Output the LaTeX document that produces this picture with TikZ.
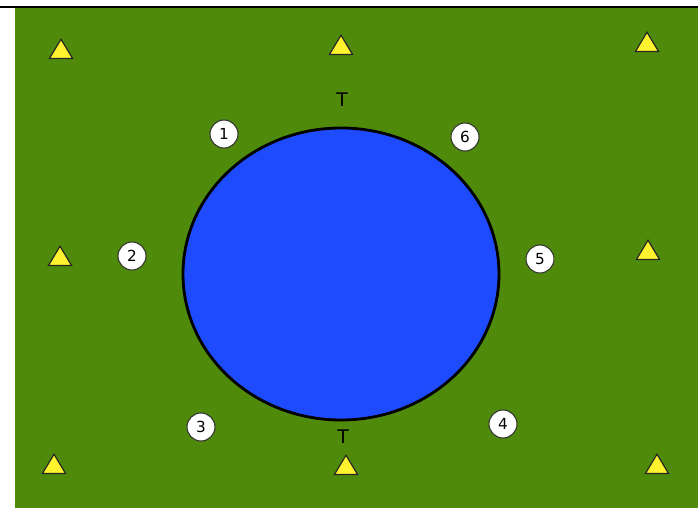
\documentclass[tikz,border=0pt]{standalone}
\usepackage{fontspec}
\setmainfont{DejaVu Sans}
\usepackage{xcolor}
\usetikzlibrary{shapes.geometric}
\definecolor{campo}{HTML}{4F8A0B}
\definecolor{lago}{HTML}{1F4BFF}
\definecolor{cono}{HTML}{FFF22E}

\begin{document}
\begin{tikzpicture}[
            x=0.03cm, y=-0.03cm,
            cone/.style={
                isosceles triangle,
                shape border rotate=90,
                isosceles triangle apex angle=62,
                draw=black!85,
                fill=cono,
                line width=1pt,
                inner sep=0pt,
                minimum height=0.58cm
            },
            spot/.style={
                circle,
                draw=black!80,
                fill=white,
                line width=0.9pt,
                minimum size=0.84cm,
                inner sep=0pt,
                font=\fontsize{13}{13}\selectfont
            },
            tag/.style={
                font=\fontsize{16}{16}\selectfont
            }
        ]
            \useasboundingbox (0,0) rectangle (698,508);
            % --- CAMPO ---
            \fill[campo] (15,8) rectangle (698,508);
            \draw[line width=1.5pt] (0,7) -- (698,7);

            % --- LAGO ---
            \node[ellipse, draw=black, line width=2.4pt, fill=lago,
                  minimum width=316*0.03cm, minimum height=292*0.03cm] (lake) at (341,274) {};

            % --- CONOS ---
            \node[cone] (c1) at (61,52) {};
            \node[cone] (c2) at (341,48) {};
            \node[cone] (c3) at (647,45) {};
            \node[cone] (c4) at (60,259) {};
            \node[cone] (c5) at (648,253) {};
            \node[cone] (c6) at (54,467) {};
            \node[cone] (c7) at (346,468) {};
            \node[cone] (c8) at (657,467) {};

            % --- POSICIONES ---
            \node[spot] (p1) at (224,134) {1};
            \node[spot] (p2) at (132,256) {2};
            \node[spot] (p3) at (201,427) {3};
            \node[spot] (p4) at (503,424) {4};
            \node[spot] (p5) at (540,259) {5};
            \node[spot] (p6) at (465,137) {6};

            % --- T ---
            \node[tag] (tn) at (342,100) {T};
            \node[tag] (ts) at (343,437) {T};
        \end{tikzpicture}
\end{document}
